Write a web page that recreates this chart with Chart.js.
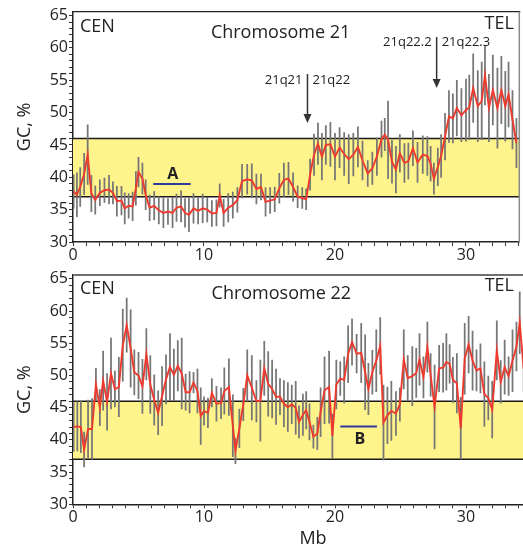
<!DOCTYPE html>
<html>
<head>
<meta charset="utf-8">
<script src="https://cdn.jsdelivr.net/npm/chart.js@4.4.1/dist/chart.umd.min.js"></script>
<style>
  html, body { margin: 0; padding: 0; overflow: hidden; background: #fff; width: 523px; height: 548px; }
  #c21 { position: absolute; left: 0; top: 0; }
  #c22 { position: absolute; left: 0; top: 262px; }
</style>
</head>
<body>
<canvas id="c21" width="523" height="262"></canvas>
<canvas id="c22" width="553" height="286"></canvas>
<script>
const FONT = "'Open Sans', 'DejaVu Sans', sans-serif";
const INK = '#222';

// chromosome 21 : position (Mb), GC %, spread
const x21 = [0.05, 0.3, 0.55, 0.85, 1.12, 1.4, 1.7, 2.05, 2.4, 2.75,
  3.05, 3.35, 3.7, 3.95, 4.25, 4.55, 4.8, 5.0, 5.3, 5.55,
  5.85, 6.2, 6.55, 6.9, 7.25, 7.6, 7.9, 8.25, 8.55, 8.85,
  9.2, 9.55, 9.9, 10.25, 10.6, 10.95, 11.2, 11.5, 11.85, 12.2,
  12.55, 12.9, 13.3, 13.65, 14.0, 14.35, 14.7, 15.05, 15.4, 15.75,
  16.1, 16.45, 16.8, 17.15, 17.5, 17.8, 18.1, 18.4, 18.7, 19.0,
  19.3, 19.65, 20.0, 20.35, 20.7, 21.05, 21.4, 21.75, 22.1, 22.5,
  22.85, 23.2, 23.55, 23.8, 24.05, 24.35, 24.65, 24.95, 25.3, 25.6,
  25.95, 26.3, 26.7, 27.05, 27.3, 27.55, 27.85, 28.1, 28.4, 28.7,
  29.0, 29.3, 29.65, 30.0, 30.25, 30.55, 30.9, 31.2, 31.45, 31.75,
  32.05, 32.4, 32.7, 33.0, 33.25, 33.55, 33.85];
const gc21 = [37.8, 37.3, 38.5, 40.5, 43.5, 37.5, 36.5, 37.6, 38.0, 38.1,
  37.6, 36.3, 36.4, 35.2, 35.6, 35.5, 38.3, 40.8, 39.8, 37.3,
  35.3, 35.6, 34.9, 34.5, 34.7, 34.5, 35.3, 35.5, 34.5, 34.2,
  35.2, 34.8, 35.2, 35.0, 34.4, 34.5, 37.2, 34.5, 35.3, 35.7,
  36.5, 39.4, 39.7, 39.5, 38.2, 38.5, 36.2, 36.4, 36.6, 38.3,
  39.6, 39.8, 38.5, 37.0, 36.8, 36.6, 40.4, 43.5, 45.2, 43.2,
  45.0, 45.1, 43.2, 44.6, 43.6, 42.8, 43.5, 44.7, 42.6, 40.6,
  41.4, 43.2, 45.9, 46.6, 45.8, 42.4, 41.2, 43.7, 42.2, 42.5,
  44.5, 42.3, 43.5, 43.3, 42.1, 39.8, 41.6, 43.3, 46.3, 49.4,
  49.1, 50.7, 49.6, 50.4, 50.8, 53.8, 51.0, 51.8, 55.8, 50.7,
  53.5, 50.7, 53.5, 51.0, 52.8, 48.9, 45.3];
const sd21 = [2.6, 3.4, 3.0, 3.2, 4.6, 2.8, 2.2, 2.0, 1.9, 2.2,
  1.7, 2.3, 2.2, 2.4, 1.9, 2.2, 2.6, 2.3, 2.4, 2.3,
  2.0, 2.2, 2.1, 2.3, 2.0, 2.3, 2.1, 2.4, 2.2, 2.6,
  2.3, 2.0, 2.2, 1.9, 2.0, 2.0, 1.8, 2.1, 2.2, 2.0,
  1.9, 2.6, 2.3, 2.6, 2.3, 2.0, 2.2, 2.0, 1.9, 2.3,
  2.6, 2.5, 2.2, 1.7, 1.6, 1.6, 2.4, 3.2, 3.2, 3.6,
  3.0, 3.4, 3.6, 3.1, 3.3, 3.8, 3.3, 3.1, 3.0, 2.0,
  2.5, 2.9, 2.8, 2.5, 6.0, 3.3, 3.6, 2.9, 3.0, 2.8,
  2.7, 3.1, 2.9, 3.0, 2.7, 2.4, 2.9, 3.3, 3.6, 4.0,
  3.8, 4.3, 4.1, 4.8, 5.0, 5.3, 5.5, 6.0, 4.6, 5.2,
  5.4, 6.2, 5.2, 5.4, 5.0, 4.5, 3.8];

// chromosome 22
const x22 = [0.05, 0.33, 0.6, 0.85, 1.15, 1.45, 1.75, 2.05, 2.3, 2.6,
  2.9, 3.2, 3.5, 3.8, 4.1, 4.4, 4.68, 5.0, 5.3, 5.6,
  5.9, 6.2, 6.5, 6.8, 7.1, 7.4, 7.7, 8.0, 8.3, 8.6,
  8.9, 9.2, 9.5, 9.75, 10.0, 10.3, 10.6, 10.95, 11.3, 11.55,
  11.9, 12.2, 12.4, 12.7, 13.0, 13.3, 13.65, 14.0, 14.3, 14.6,
  14.9, 15.2, 15.5, 15.8, 16.1, 16.4, 16.7, 17.0, 17.25, 17.55,
  17.8, 18.05, 18.35, 18.65, 18.9, 19.2, 19.55, 19.8, 20.1, 20.4,
  20.7, 21.0, 21.3, 21.65, 22.0, 22.3, 22.55, 22.85, 23.15, 23.45,
  23.7, 24.0, 24.3, 24.65, 24.95, 25.25, 25.55, 25.9, 26.2, 26.45,
  26.75, 27.05, 27.3, 27.6, 27.95, 28.25, 28.5, 28.75, 29.0, 29.3,
  29.6, 29.9, 30.2, 30.5, 30.8, 31.1, 31.4, 31.7, 32.0, 32.35,
  32.65, 32.95, 33.25, 33.55, 33.85, 34.1, 34.4];
const gc22 = [42.0, 42.1, 42.0, 38.5, 41.7, 41.7, 48.6, 45.0, 49.2, 45.9,
  50.3, 47.9, 48.2, 54.7, 57.8, 54.2, 50.5, 50.0, 48.3, 53.3,
  48.6, 46.2, 44.2, 46.8, 49.4, 51.3, 50.1, 51.5, 50.3, 47.4,
  47.4, 48.9, 47.6, 43.7, 44.5, 44.2, 47.3, 45.6, 45.7, 47.6,
  48.2, 42.2, 38.3, 41.8, 45.5, 50.0, 48.1, 46.0, 46.1, 51.1,
  48.7, 47.9, 46.7, 46.7, 45.6, 45.1, 45.5, 45.0, 42.8, 43.9,
  44.6, 42.8, 40.5, 41.0, 44.3, 47.7, 48.2, 40.6, 48.6, 49.5,
  49.3, 53.3, 55.2, 53.4, 53.5, 50.5, 47.9, 50.5, 52.3, 54.6,
  42.7, 43.8, 44.5, 44.1, 45.5, 52.5, 49.6, 49.9, 50.4, 52.5,
  49.7, 54.4, 50.1, 45.1, 51.1, 51.2, 52.1, 51.8, 49.3, 48.8,
  41.8, 52.6, 54.8, 52.3, 50.8, 51.1, 47.1, 46.5, 44.7, 53.9,
  49.0, 51.3, 49.9, 52.3, 54.5, 58.2, 51.0];
const sd22 = [3.8, 3.8, 4.0, 2.7, 4.5, 4.7, 2.5, 2.8, 4.6, 4.4,
  5.5, 2.8, 4.6, 5.6, 4.2, 6.0, 3.5, 3.6, 4.2, 4.0,
  4.5, 3.9, 3.4, 4.6, 3.8, 5.2, 4.0, 3.9, 5.5, 2.8,
  3.2, 1.6, 3.4, 4.4, 2.2, 2.3, 2.2, 2.7, 2.4, 3.6,
  4.4, 4.8, 2.0, 3.0, 2.5, 4.0, 5.0, 3.2, 6.3, 4.2,
  5.0, 4.5, 4.3, 2.8, 3.6, 3.8, 3.0, 4.1, 2.5, 3.2,
  2.9, 2.8, 1.8, 2.5, 3.8, 5.2, 5.6, 3.4, 3.8, 2.6,
  3.6, 4.4, 3.6, 3.0, 4.6, 5.8, 4.0, 3.4, 4.8, 4.4,
  5.8, 4.4, 4.6, 3.4, 2.6, 4.6, 3.5, 4.6, 3.8, 4.0,
  3.2, 3.9, 3.3, 6.5, 3.6, 3.8, 4.4, 3.0, 3.5, 4.6,
  4.8, 5.5, 4.4, 4.6, 3.2, 3.8, 5.0, 3.4, 4.4, 4.6,
  3.3, 4.2, 3.0, 4.8, 3.8, 4.8, 3.5];

const bandHigh = 46, bandLow = 37;
const regionA = [6.13, 8.98], levelA = 38.96;
const regionB = [20.4, 23.2], levelB = 42.07;

let notes = {
  id: 'notes',
  afterDatasetsDraw(chart, args, opts) {
    const ctx = chart.ctx, a = chart.chartArea;
    const x = chart.scales.x, y = chart.scales.y;
    ctx.save();
    // frame lines
    ctx.lineWidth = opts.topWidth;
    ctx.strokeStyle = opts.topColor;
    ctx.beginPath(); ctx.moveTo(a.left, a.top); ctx.lineTo(a.right + 1, a.top); ctx.stroke();
    if (opts.rightColor) {
      ctx.lineWidth = 1.5;
      ctx.strokeStyle = opts.rightColor;
      ctx.beginPath(); ctx.moveTo(a.right, a.top); ctx.lineTo(a.right, a.bottom); ctx.stroke();
    }
    ctx.fillStyle = INK;
    ctx.textBaseline = 'middle';
    opts.texts.forEach(t => {
      ctx.font = t.font;
      ctx.textAlign = t.align;
      ctx.fillText(t.text, x.getPixelForValue(t.x), y.getPixelForValue(t.y));
    });
    // band boundary arrows
    opts.arrows.forEach(ar => {
      const px = x.getPixelForValue(ar.x);
      const top = y.getPixelForValue(ar.top), tip = y.getPixelForValue(ar.tip);
      ctx.strokeStyle = '#333';
      ctx.fillStyle = '#333';
      ctx.lineWidth = 1.5;
      ctx.beginPath(); ctx.moveTo(px, top); ctx.lineTo(px, tip - 6); ctx.stroke();
      ctx.beginPath(); ctx.moveTo(px, tip); ctx.lineTo(px - 4, tip - 9); ctx.lineTo(px + 4, tip - 9); ctx.closePath(); ctx.fill();
      ctx.fillStyle = INK;
      ctx.font = '13px ' + FONT;
      const ty = y.getPixelForValue(ar.textY);
      ctx.textAlign = 'right'; ctx.fillText(ar.left, px - 5, ty);
      ctx.textAlign = 'left'; ctx.fillText(ar.right, px + 5, ty);
    });
    ctx.restore();
  }
};

let makeChart = (id, xs, gc, sd, xmax, region, level, layout) => {
  const ctx = document.getElementById(id);
  const datasets = [
    {
      type: 'line', data: xs.map((v, i) => ({x: v, y: gc[i]})),
      borderColor: '#ee3a2e', borderWidth: 1.9, pointRadius: 0, tension: 0, fill: false, order: 0
    },
    {
      type: 'line', data: [{x: region[0], y: level}, {x: region[1], y: level}],
      borderColor: '#2b3a9c', borderWidth: 2, pointRadius: 0, fill: false, order: 1
    },
    {
      type: 'bar', data: xs.map((v, i) => ({x: v, y: [gc[i] - sd[i], gc[i] + sd[i]]})),
      backgroundColor: '#767676', barThickness: 1.1, grouped: false, order: 2
    },
    {
      type: 'line', data: [{x: 0, y: bandHigh}, {x: xmax, y: bandHigh}],
      borderColor: '#1a1a1a', borderWidth: 1.5, pointRadius: 0, fill: '+1', backgroundColor: '#fff48c', order: 4
    },
    {
      type: 'line', data: [{x: 0, y: bandLow}, {x: xmax, y: bandLow}],
      borderColor: '#1a1a1a', borderWidth: 1.5, pointRadius: 0, fill: false, order: 3
    }
  ];
  const config = {
    type: 'line',
    data: { datasets: datasets },
    plugins: [notes],
    options: {
      responsive: false,
      animation: false,
      devicePixelRatio: 1,
      layout: { padding: layout.padding },
      plugins: {
        legend: { display: false },
        tooltip: { enabled: false },
        notes: layout.notes
      },
      scales: {
        x: {
          type: 'linear', min: 0, max: xmax, offset: false,
          grid: { display: true, drawOnChartArea: false, drawTicks: true, tickLength: 4, color: '#333', offset: false },
          border: { display: true, color: '#222', width: 1.5 },
          ticks: {
            stepSize: 1, autoSkip: false, includeBounds: false, maxRotation: 0, padding: 0,
            color: INK, font: { family: FONT, size: 16 },
            callback: v => (v % 10 === 0 ? String(v) : '')
          },
          title: layout.xTitle,
          afterFit: s => { s.height = layout.xHeight; }
        },
        y: {
          type: 'linear', min: 30, max: 65.6,
          grid: { display: true, drawOnChartArea: false, drawTicks: true, tickLength: 4, color: '#333' },
          border: { display: true, color: '#222', width: 1.5 },
          ticks: {
            stepSize: 1, autoSkip: false, includeBounds: false, padding: 1,
            color: INK, font: { family: FONT, size: 16 },
            callback: v => (v % 5 === 0 ? String(v) : '')
          },
          title: {
            display: true, text: 'GC, %', color: INK,
            font: { family: FONT, size: 18 }, padding: { top: 14, bottom: 0 }
          },
          afterFit: s => { s.width = 73; }
        }
      }
    }
  };
  return new Chart(ctx, config);
};

makeChart('c21', x21, gc21, sd21, 34.07, regionA, levelA, {
  padding: { top: 11.7, right: 3.7, left: 0, bottom: 0 },
  xHeight: 20,
  xTitle: { display: false },
  notes: {
    topColor: '#222', topWidth: 1.2, rightColor: '#8a8a8a',
    texts: [
      { text: 'CEN', x: 0.53, y: 63.2, align: 'left', font: '18px ' + FONT },
      { text: 'Chromosome 21', x: 15.85, y: 62.4, align: 'center', font: '18px ' + FONT },
      { text: 'TEL', x: 33.66, y: 63.7, align: 'right', font: '18px ' + FONT },
      { text: 'A', x: 7.61, y: 40.5, align: 'center', font: 'bold 16px ' + FONT }
    ],
    arrows: [
      { x: 17.9, top: 55.96, tip: 48.39, textY: 55.03, left: '21q21', right: '21q22' },
      { x: 27.76, top: 61.68, tip: 53.8, textY: 60.9, left: '21q22.2', right: '21q22.3' }
    ]
  }
});

makeChart('c22', x22, gc22, sd22, 36.64, regionB, levelB, {
  padding: { top: 13, right: 0, left: 0, bottom: 0 },
  xHeight: 43.7,
  xTitle: {
    display: true, text: 'Mb', color: INK,
    font: { family: FONT, size: 18, lineHeight: 1 }, padding: { top: 0, bottom: 0 }
  },
  notes: {
    topColor: '#6f6f6f', topWidth: 2, rightColor: null,
    texts: [
      { text: 'CEN', x: 0.53, y: 63.5, align: 'left', font: '18px ' + FONT },
      { text: 'Chromosome 22', x: 15.9, y: 62.6, align: 'center', font: '18px ' + FONT },
      { text: 'TEL', x: 33.66, y: 63.85, align: 'right', font: '18px ' + FONT },
      { text: 'B', x: 21.9, y: 40.0, align: 'center', font: 'bold 16px ' + FONT }
    ],
    arrows: []
  }
});
</script>
</body>
</html>
